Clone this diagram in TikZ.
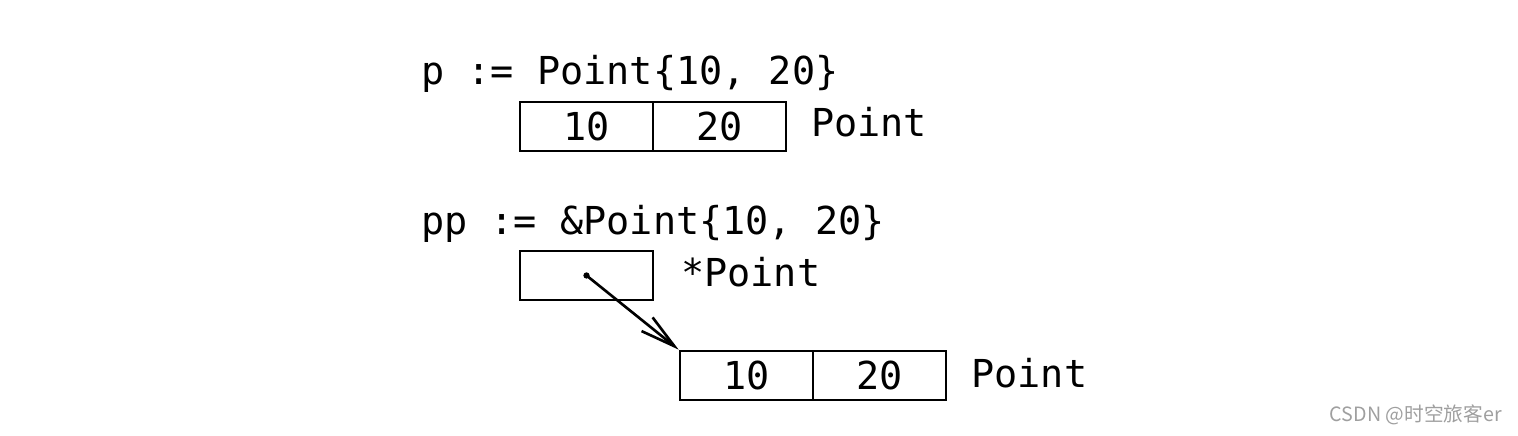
\documentclass[tikz,border=0pt]{standalone}
\usepackage{fontspec}
\setmonofont{DejaVu Sans Mono}
\newfontfamily\cjkfont{Noto Sans CJK SC}
\usetikzlibrary{positioning,arrows.meta}

\begin{document}
\begin{tikzpicture}[
  line width=0.75pt,
  font={\ttfamily\fontsize{10.95}{13}\selectfont},
  cell/.style={draw, minimum width=1.33cm, minimum height=0.49cm, inner sep=0pt},
  code/.style={anchor=base west, inner sep=0pt},
  ptrarrow/.style={-{Straight Barb[length=10pt,width=5pt]}}
]
 \useasboundingbox (0,0) rectangle (15.18,4.36);

 % value
 \node[code] (decl1) at (4.20,3.51) {p := Point\{10, 20\}};
 \node[cell] (x1) at (5.865,3.095) {10};
 \node[cell] (y1) at (7.195,3.095) {20};
 \node[code] (type1) at (8.10,2.99) {Point};

 % pointer
 \node[code] (decl2) at (4.20,2.01) {pp := \&Point\{10, 20\}};
 \node[cell] (ptr) at (5.865,1.605) {};
 \node[code] (type2) at (6.80,1.49) {*Point};

 \node[cell] (x2) at (7.465,0.605) {10};
 \node[cell] (y2) at (8.795,0.605) {20};
 \node[code] (type3) at (9.70,0.48) {Point};

 \fill (ptr.center) circle (0.9pt);
 \draw[ptrarrow] (ptr.center) -- (x2.north west);

 \node[anchor=base east, inner sep=0pt, text=gray!75, font={\cjkfont\fontsize{5.6}{6}\selectfont}] (mark) at (15.03,0.14) {CSDN @时空旅客er};

\end{tikzpicture}
\end{document}
